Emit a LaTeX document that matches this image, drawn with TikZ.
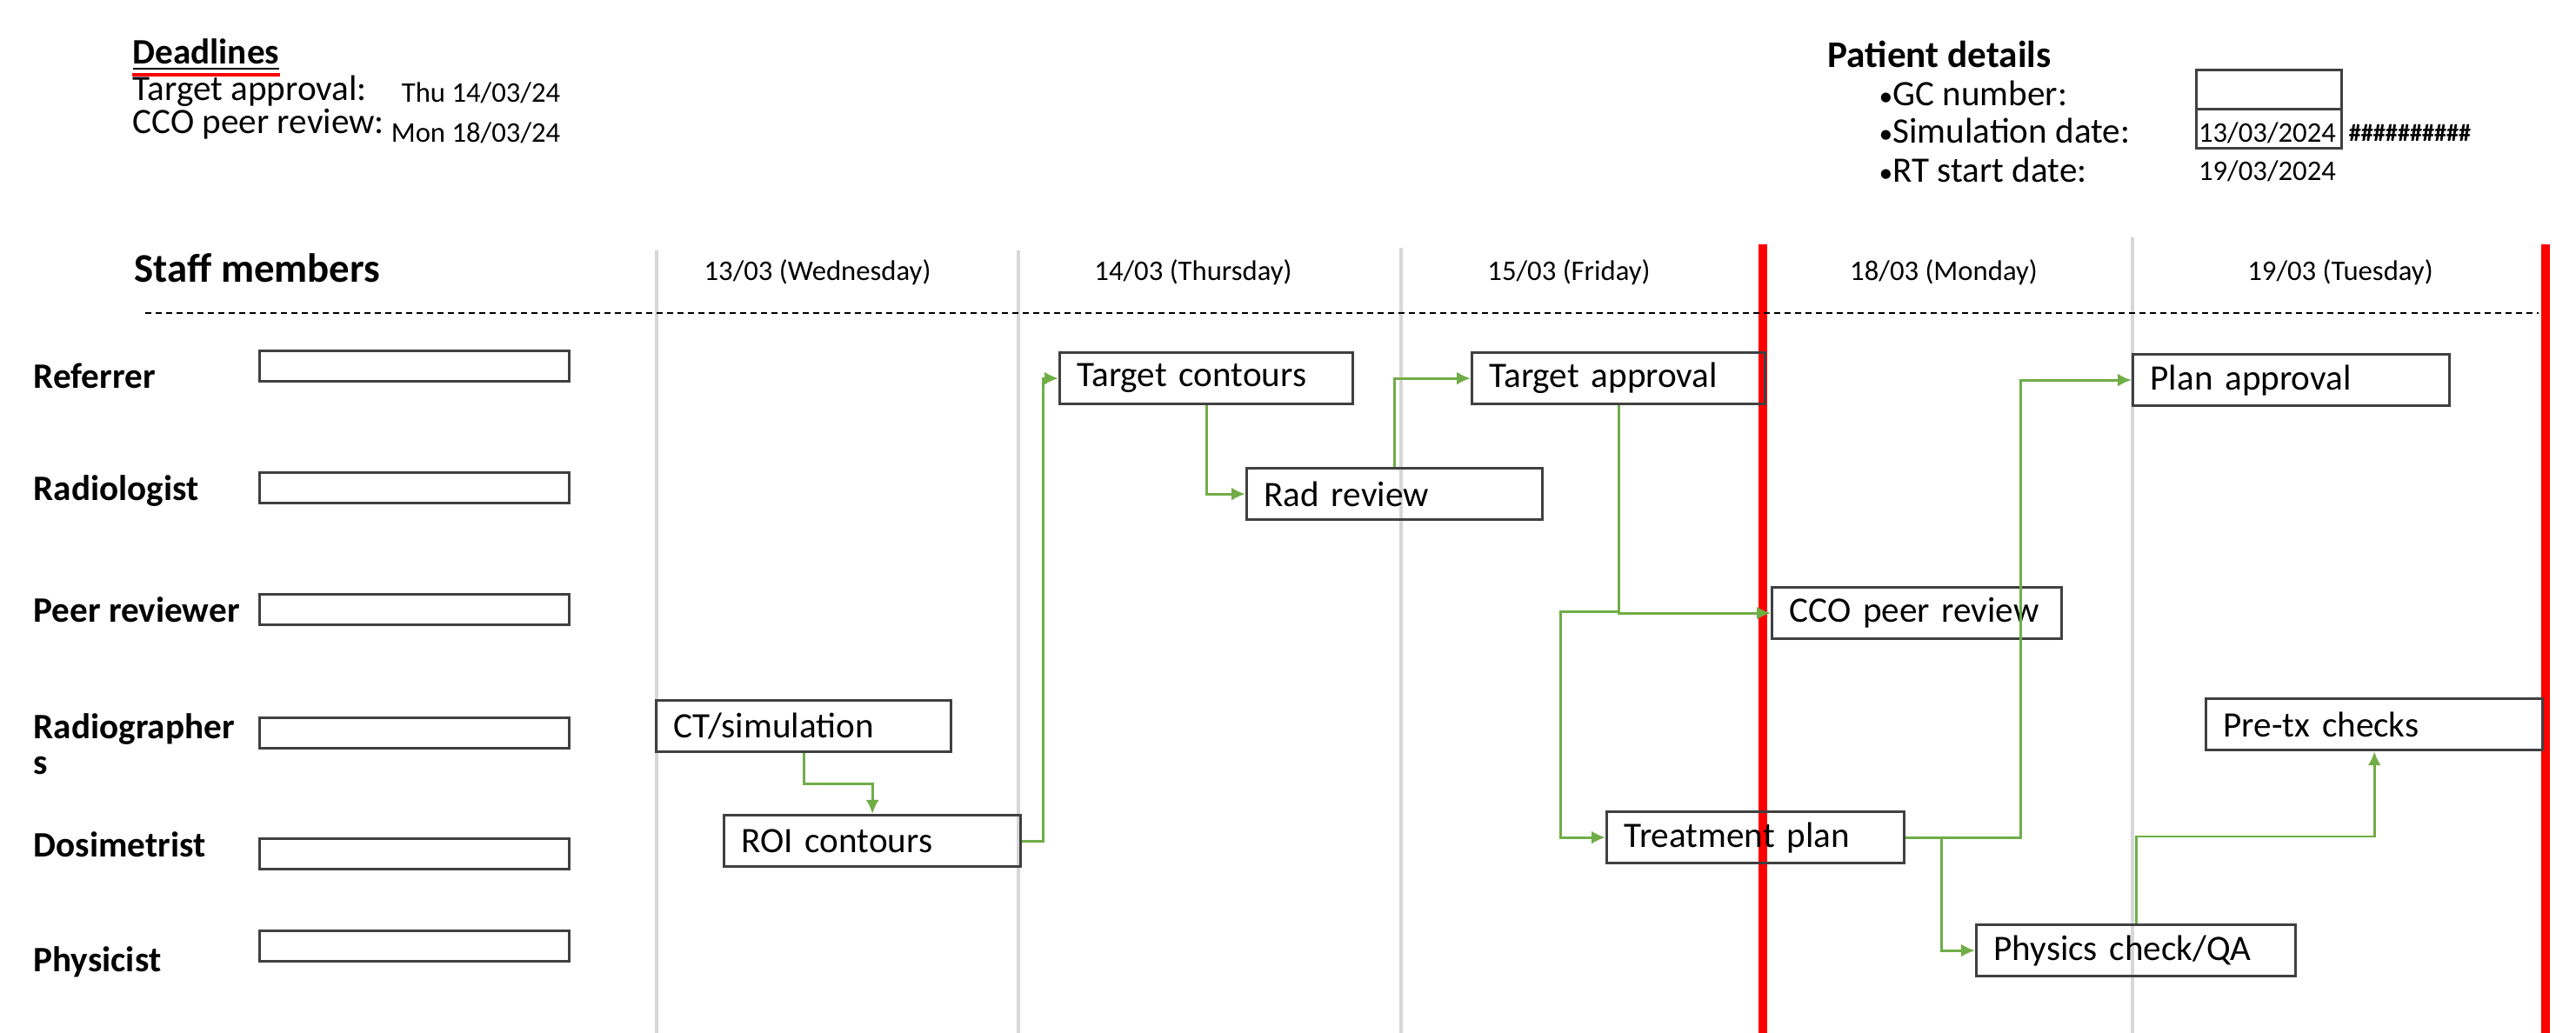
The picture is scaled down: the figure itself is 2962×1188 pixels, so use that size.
\documentclass[tikz,border=0pt]{standalone}
\usepackage{fontspec}
\setmainfont{Carlito}
\usetikzlibrary{arrows.meta,positioning,calc}
\definecolor{flowgreen}{RGB}{112,173,71}
\definecolor{boxline}{RGB}{64,64,64}
\definecolor{daygrid}{RGB}{215,215,215}
\definecolor{cutred}{RGB}{255,0,0}
\newcommand{\tasksize}{\fontsize{11.7}{11.7}\selectfont}
\newcommand{\daysize}{\fontsize{9.3}{11}\selectfont}

\begin{document}
\begin{tikzpicture}[
  x=0.01cm, y=-0.01cm,
  task/.style={draw=boxline, line width=0.9pt, anchor=north west, text width=#1, minimum height=0.59cm, inner xsep=0.2cm, inner ysep=0pt, align=left, font=\tasksize},
  staffbox/.style={draw=boxline, line width=0.9pt, anchor=north west, minimum width=3.56cm, minimum height=0.35cm, inner sep=0pt},
  datebox/.style={draw=boxline, line width=0.9pt, anchor=north west, minimum width=1.67cm, minimum height=0.445cm, inner sep=0pt},
  role/.style={anchor=west, inner sep=0pt, align=left, font=\tasksize\bfseries},
  info/.style={anchor=west, inner sep=0pt, font=\tasksize},
  day/.style={inner sep=0pt, font=\daysize},
  flow/.style={draw=flowgreen, line width=0.8pt, -{Latex[length=1.6mm,width=1.5mm]}},
  dayline/.style={draw=daygrid, line width=1pt},
  cutoff/.style={draw=cutred, line width=2.6pt}
]
\useasboundingbox (0,0) rectangle (2962,1188);

\node[anchor=west, inner sep=0pt, font=\tasksize\bfseries] (deadlines) at (152,63) {\underline{Deadlines}};
\draw[cutred, line width=0.9pt] ([yshift=-1.2pt]deadlines.south west) -- ([yshift=-1.2pt]deadlines.south east);
\node[info] (targetlbl) at (152,105) {Target approval:};
\node[anchor=east, inner sep=0pt, font=\daysize] (targetdate) at (645,107) {Thu 14/03/24};
\node[info] (ccolbl) at (152,143) {CCO peer review:};
\node[anchor=east, inner sep=0pt, font=\daysize] (ccodate) at (645,153) {Mon 18/03/24};

\node[anchor=west, inner sep=0pt, font=\fontsize{12.3}{14}\selectfont\bfseries] (patient) at (2101,62) {Patient details};
\node[info] (gclbl) at (2160,107) {{\fontsize{9}{9}\selectfont•}GC number:};
\node[info] (simlbl) at (2160,150) {{\fontsize{9}{9}\selectfont•}Simulation date:};
\node[info] (rtlbl) at (2160,195) {{\fontsize{9}{9}\selectfont•}RT start date:};
\node[datebox] (gcbox) at (2524,79) {};
\node[datebox] (simbox) at (2524,124) {};
\node[day] (simdate) at (2607,153) {13/03/2024};
\node[day, font=\fontsize{8}{9}\selectfont\bfseries] (overflow) at (2771,153) {\#\#\#\#\#\#\#\#\#\#};
\node[day] (rtdate) at (2607,197) {19/03/2024};

\draw[dayline] (755,288) -- (755,1188);
\draw[dayline] (1171,288) -- (1171,1188);
\draw[dayline] (1611,285) -- (1611,1188);
\draw[dayline] (2452,273) -- (2452,1188);
\draw[cutoff] (2027,281) -- (2027,1188);
\draw[cutoff] (2927,281) -- (2927,1188);

\node[anchor=west, inner sep=0pt, font=\fontsize{13.3}{16}\selectfont\bfseries] (staff) at (154,308) {Staff members};
\node[day] (wed) at (940,313) {13/03 (Wednesday)};
\node[day] (thu) at (1372,313) {14/03 (Thursday)};
\node[day] (fri) at (1804,313) {15/03 (Friday)};
\node[day] (mon) at (2235,313) {18/03 (Monday)};
\node[day] (tue) at (2691,313) {19/03 (Tuesday)};
\draw[dashed, line width=0.6pt, dash pattern=on 0.7mm off 0.5mm] (167,360) -- (2919,360);

\node[role] (referrer) at (38,432) {Referrer};
\node[role] (radiologist) at (38,565) {Radiologist};
\node[role] (peer) at (38,701) {Peer reviewer};
\node[role] (radiographers) at (38,856) {Radiographer\\s};
\node[role] (dosimetrist) at (38,971) {Dosimetrist};
\node[role] (physicist) at (38,1106) {Physicist};

\node[staffbox] (referrerbox) at (297,402) {};
\node[staffbox] (radiologistbox) at (297,542) {};
\node[staffbox] (peerbox) at (297,682) {};
\node[staffbox] (radiographersbox) at (297,824) {};
\node[staffbox] (dosimetristbox) at (297,963) {};
\node[staffbox] (physicistbox) at (297,1069) {};

\node[task=2.99cm] (ct) at (753,804) {CT/simulation};
\node[task=3.01cm] (roi) at (831,936) {ROI contours};
\node[task=2.97cm] (tcont) at (1217,404) {Target contours};
\node[task=3.00cm] (rad) at (1432,537) {Rad review};
\node[task=2.97cm] (tapp) at (1691,404) {Target approval};
\node[task=2.93cm] (cco) at (2036,674) {CCO peer review};
\node[task=3.02cm] (tplan) at (1846,932) {Treatment plan};
\node[task=3.24cm] (papp) at (2451,406) {Plan approval};
\node[task=3.47cm] (pretx) at (2535,802) {Pre-tx checks};
\node[task=3.27cm] (phys) at (2271,1062) {Physics check/QA};

\draw[flow] (ct.south) -- ++(0,35) -| (roi.north);
\draw[flow] (roi.east) -- ++(24,0) |- (tcont.west);
\draw[flow] (tcont.south) |- (rad.west);
\draw[flow] (rad.north) |- (tapp.west);
\draw[flow] (tapp.south) |- (cco.west);
\draw[flow] (tapp.south) |- ++(-67,237) |- (tplan.west);
\draw[flow] (tplan.east) -- ++(132,0) |- (papp.west);
\draw[flow] (tplan.east) -- ++(41,0) |- (phys.west);
\draw[flow] (phys.north) -- ++(0,-100) -| (pretx.south);
\end{tikzpicture}
\end{document}
